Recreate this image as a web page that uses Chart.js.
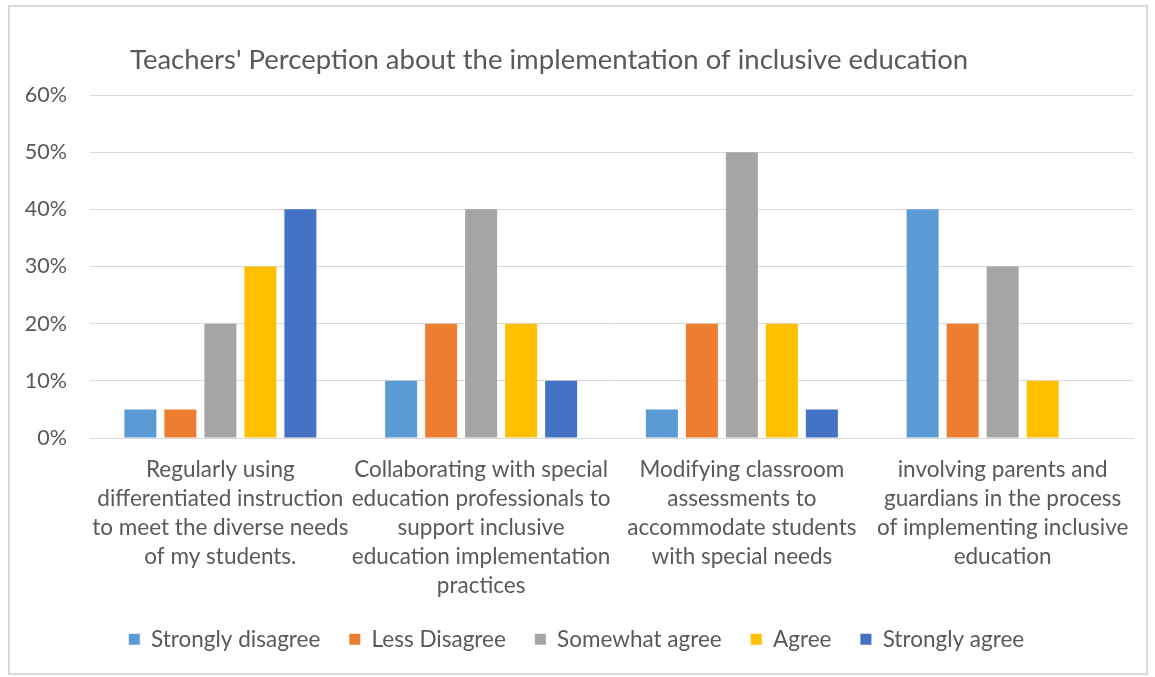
<!DOCTYPE html>
<html><head><meta charset="utf-8">
<script src="https://cdn.jsdelivr.net/npm/chart.js@4/dist/chart.umd.min.js"></script>
<style>
html,body{margin:0;padding:0;background:#fff;}
#frame{position:absolute;left:8px;top:5px;width:1140px;height:670px;box-sizing:border-box;border:2px solid #d9d9d9;}
#wrap{position:absolute;left:0;top:0;width:1155px;height:677px;}
</style></head>
<body>
<div id="frame"></div>
<div id="wrap"><canvas id="c" width="1155" height="677"></canvas></div>
<script>
const titleText = "Teachers' Perception about the implementation of inclusive education";
const categories = [
  ["Regularly using", "differentiated instruction", "to meet the diverse needs", "of my students."],
  ["Collaborating with special", "education professionals to", "support inclusive", "education implementation", "practices"],
  ["Modifying classroom", "assessments to", "accommodate students", "with special needs"],
  ["involving parents and", "guardians in the process", "of implementing inclusive", "education"]
];
const seriesNames = ["Strongly disagree", "Less Disagree", "Somewhat agree", "Agree", "Strongly agree"];
const stronglyDisagree = [5, 10, 5, 40];
const lessDisagree = [5, 20, 20, 20];
const somewhatAgree = [20, 40, 50, 30];
const agree = [30, 20, 20, 10];
const stronglyAgree = [40, 10, 5, 0];
const seriesColors = ["#5B9BD5", "#ED7D31", "#A5A5A5", "#FFC000", "#4472C4"];
const yTicks = [0, 10, 20, 30, 40, 50, 60];

const FONT = "Lato, 'Liberation Sans', sans-serif";
const TXT = "#595959";

const titlePlugin = {
  id: 'leftTitle',
  afterDraw(chart) {
    const ctx = chart.ctx;
    ctx.save();
    ctx.font = "27.5px " + FONT;
    ctx.fillStyle = TXT;
    ctx.textBaseline = "middle";
    ctx.textAlign = "left";
    ctx.fillText(titleText, 130, 60);
    ctx.restore();
  }
};

const values = [stronglyDisagree, lessDisagree, somewhatAgree, agree, stronglyAgree];
new Chart(document.getElementById('c'), {
  type: 'bar',
  data: {
    labels: categories,
    datasets: seriesNames.map((n, i) => ({
      label: n,
      data: values[i],
      backgroundColor: seriesColors[i],
      borderWidth: 0
    }))
  },
  plugins: [titlePlugin],
  options: {
    responsive: false,
    animation: false,
    datasets: { bar: { categoryPercentage: 0.767, barPercentage: 0.8 } },
    layout: { padding: { left: 20, right: 22, top: 95, bottom: 16.5 } },
    plugins: {
      title: { display: false },
      tooltip: { enabled: false },
      legend: {
        position: 'bottom',
        labels: {
          font: { family: FONT, size: 22.5 },
          color: TXT,
          boxWidth: 11,
          boxHeight: 11,
          padding: 29
        }
      }
    },
    scales: {
      x: {
        grid: { display: false, drawTicks: false },
        border: { color: "#d9d9d9", width: 1 },
        ticks: {
          font: { family: FONT, size: 22.5, lineHeight: 29 / 22.5 },
          color: TXT,
          padding: 17,
          maxRotation: 0,
          autoSkip: false
        },
        afterFit(s) { s.height = 161; }
      },
      y: {
        min: 0, max: 60,
        afterBuildTicks(s) { s.ticks = yTicks.map(v => ({ value: v })); },
        grid: { color: "#d9d9d9", drawTicks: false },
        border: { display: false },
        ticks: {
          font: { family: FONT, size: 21.5 },
          color: TXT,
          padding: 23,
          callback: v => v + "%"
        },
        afterFit(s) { s.width = 70; }
      }
    }
  }
});
</script>
</body></html>
